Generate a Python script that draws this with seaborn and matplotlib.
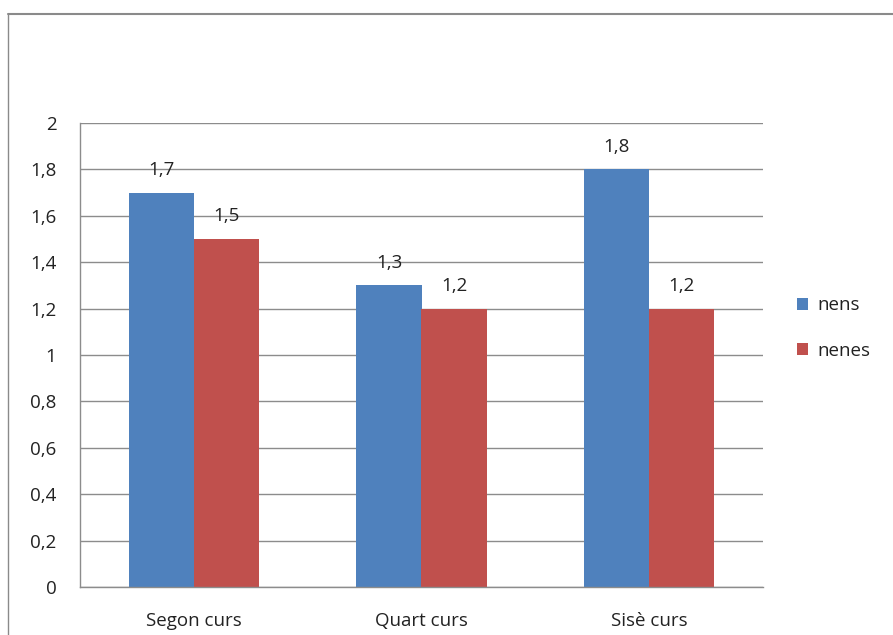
import matplotlib
matplotlib.use("Agg")
import matplotlib.pyplot as plt
from matplotlib.lines import Line2D
from matplotlib.ticker import FixedLocator, FuncFormatter
import seaborn as sns
import pandas as pd

categories = ["Segon curs", "Quart curs", "Sisè curs"]
series_names = ["nens", "nenes"]
nens = [1.7, 1.3, 1.8]
nenes = [1.5, 1.2, 1.2]
colors = ["#4F81BD", "#C0504D"]
y_ticks = [0, 0.2, 0.4, 0.6, 0.8, 1.0, 1.2, 1.4, 1.6, 1.8, 2.0]

df = pd.DataFrame({
    "curs": categories * 2,
    "serie": [series_names[0]] * 3 + [series_names[1]] * 3,
    "valor": nens + nenes,
})

sns.set_style("white")
plt.rcParams["font.family"] = ["Open Sans", "DejaVu Sans"]
FS = 13.5

fig = plt.figure(figsize=(8.93, 6.35), dpi=100)
ax = fig.add_axes([80 / 893, 1 - 587 / 635, (763 - 80) / 893, (587 - 123) / 635])

sns.barplot(data=df, x="curs", y="valor", hue="serie", palette=colors,
            width=2 / 3.5, saturation=1, ax=ax, legend=True, linewidth=0)

def fmt(v):
    s = ("%.1f" % v).rstrip("0").rstrip(".")
    return s.replace(".", ",")

for cont in ax.containers:
    ax.bar_label(cont, labels=[fmt(v) for v in cont.datavalues], padding=10,
                 fontsize=FS, color="#222222")

ax.set_ylim(0, 2)
ax.set_xlim(-0.5, 2.5)
ax.set_yticks(y_ticks)
ax.yaxis.set_major_formatter(FuncFormatter(lambda v, p: fmt(v)))
ax.yaxis.grid(True, color="#8c8c8c", linewidth=1)
ax.set_axisbelow(True)
ax.set_xlabel("")
ax.set_ylabel("")

ax.tick_params(axis="x", which="major", length=0, labelsize=FS, pad=18, colors="#222222")
ax.xaxis.set_minor_locator(FixedLocator([-0.5, 0.5, 1.5, 2.5]))
ax.tick_params(axis="x", which="minor", length=7, color="#8c8c8c", direction="out")
ax.tick_params(axis="y", length=7, labelsize=FS, pad=10, direction="out",
               colors="#8c8c8c", labelcolor="#222222")

for s in ["top", "right"]:
    ax.spines[s].set_visible(False)
for s in ["left", "bottom"]:
    ax.spines[s].set_color("#8c8c8c")
    ax.spines[s].set_linewidth(1)

leg = ax.legend(loc="center left", bbox_to_anchor=(1.025, 0.558), frameon=False,
                fontsize=FS, handlelength=0.6, handleheight=0.6, labelspacing=1.45,
                handletextpad=0.5)
for t in leg.get_texts():
    t.set_color("#222222")

# outer chart frame
fig.add_artist(Line2D([8 / 893, 1], [1 - 14 / 635] * 2, color="#8a8a8a", linewidth=1.5,
                      transform=fig.transFigure))
fig.add_artist(Line2D([8 / 893] * 2, [0, 1 - 14 / 635], color="#8a8a8a", linewidth=1.0,
                      transform=fig.transFigure))

fig.savefig("out.png", dpi=100)
